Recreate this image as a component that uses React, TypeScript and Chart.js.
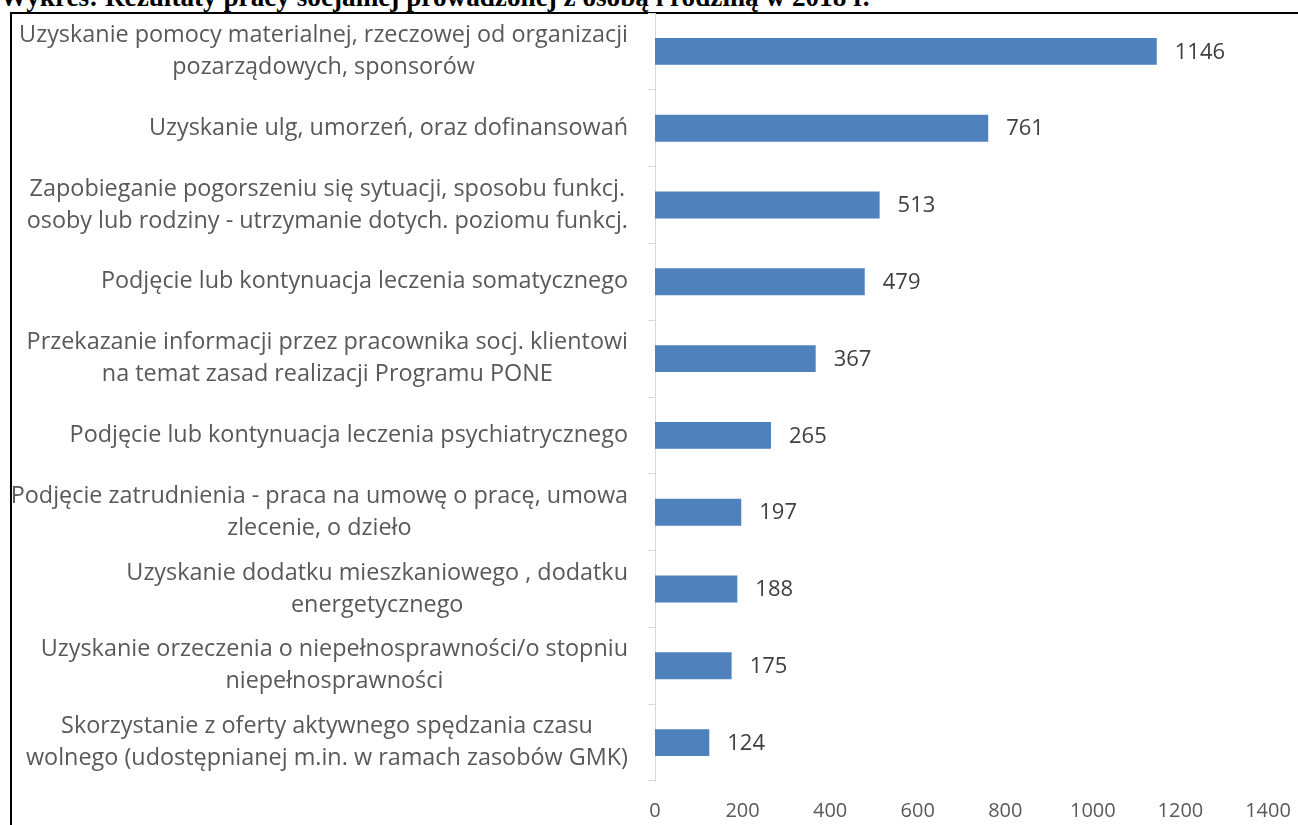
import React, { useEffect, useRef } from "react";
import { Chart, registerables } from "chart.js";

Chart.register(...registerables);

const TITLE = "Wykres: Rezultaty pracy socjalnej prowadzonej z osobą i rodziną w 2018 r.";

const categories: string[][] = [
  ["Uzyskanie pomocy materialnej, rzeczowej od organizacji", "pozarządowych, sponsorów"],
  ["Uzyskanie ulg, umorzeń, oraz dofinansowań"],
  ["Zapobieganie pogorszeniu się sytuacji, sposobu funkcj.", "osoby lub rodziny - utrzymanie dotych. poziomu funkcj."],
  ["Podjęcie lub kontynuacja leczenia somatycznego"],
  ["Przekazanie informacji przez pracownika socj. klientowi", "na temat zasad realizacji Programu PONE"],
  ["Podjęcie lub kontynuacja leczenia psychiatrycznego"],
  ["Podjęcie zatrudnienia - praca na umowę o pracę, umowa", "zlecenie, o dzieło"],
  ["Uzyskanie dodatku mieszkaniowego , dodatku", "energetycznego"],
  ["Uzyskanie orzeczenia o niepełnosprawności/o stopniu", "niepełnosprawności"],
  ["Skorzystanie z oferty aktywnego spędzania czasu", "wolnego (udostępnianej m.in. w ramach zasobów GMK)"],
];

const values: number[] = [1146, 761, 513, 479, 367, 265, 197, 188, 175, 124];

const xTicks: number[] = [0, 200, 400, 600, 800, 1000, 1200, 1400];

const FONT = '"Open Sans", sans-serif';

const categoryLabelsPlugin = {
  id: "categoryLabels",
  afterDraw(chart: any) {
    const ctx = chart.ctx;
    const yScale = chart.scales.y;
    ctx.save();
    ctx.font = `23.4px ${FONT}`;
    ctx.fillStyle = "#595959";
    ctx.textAlign = "center";
    ctx.textBaseline = "middle";
    const lineH = 32;
    categories.forEach((lines, i) => {
      const y = yScale.getPixelForTick(i);
      const maxW = Math.max(...lines.map((l) => ctx.measureText(l).width));
      const right = yScale.right - 27;
      const cx = right - maxW / 2;
      const startY = y - ((lines.length - 1) * lineH) / 2;
      lines.forEach((l, j) => ctx.fillText(l, cx, startY + j * lineH));
    });
    ctx.restore();
  },
};

const valueLabelsPlugin = {
  id: "valueLabels",
  afterDatasetsDraw(chart: any) {
    const ctx = chart.ctx;
    const meta = chart.getDatasetMeta(0);
    ctx.save();
    ctx.font = `22px ${FONT}`;
    ctx.fillStyle = "#404040";
    ctx.textAlign = "left";
    ctx.textBaseline = "middle";
    meta.data.forEach((bar: any, i: number) => {
      ctx.fillText(String(values[i]), bar.x + 18, bar.y + 1);
    });
    ctx.restore();
  },
};

export default function App() {
  const ref = useRef<HTMLCanvasElement | null>(null);

  useEffect(() => {
    if (!ref.current) return;
    const chart = new Chart(ref.current, {
      type: "bar",
      data: {
        labels: categories.map((c) => c.join(" ")),
        datasets: [
          {
            data: values,
            backgroundColor: "#4f81bd",
            barPercentage: 0.35,
            categoryPercentage: 1,
          },
        ],
      },
      options: {
        indexAxis: "y",
        animation: false,
        responsive: false,
        maintainAspectRatio: false,
        layout: { padding: { top: 13, right: 30, bottom: 0, left: 0 } },
        plugins: {
          legend: { display: false },
          tooltip: { enabled: false },
          title: { display: false },
        },
        scales: {
          x: {
            min: 0,
            max: 1400,
            afterFit: (scale: any) => {
              scale.height = 44;
              scale.paddingLeft = 0;
              scale.paddingRight = 0;
            },
            afterBuildTicks: (scale: any) => {
              scale.ticks = xTicks.map((v) => ({ value: v }));
            },
            grid: { display: false, drawTicks: false },
            border: { display: false },
            ticks: {
              color: "#595959",
              font: { family: FONT, size: 20 },
              padding: 18,
              callback: (v: any) => String(v),
            },
          },
          y: {
            afterFit: (scale: any) => {
              scale.width = 655;
              scale.paddingTop = 0;
              scale.paddingBottom = 0;
            },
            grid: {
              display: true,
              drawOnChartArea: false,
              drawTicks: true,
              tickLength: 7,
              color: "#d9d9d9",
              offset: true,
            },
            border: { display: true, color: "#d9d9d9", width: 1 },
            ticks: { display: false },
          },
        },
      },
      plugins: [categoryLabelsPlugin, valueLabelsPlugin],
    });
    return () => chart.destroy();
  }, []);

  return (
    <div
      style={{
        position: "fixed",
        left: 0,
        top: 0,
        width: 1298,
        height: 825,
        overflow: "hidden",
        background: "#fff",
      }}
    >
      <div
        style={{
          position: "absolute",
          left: 0,
          top: -16,
          fontFamily: '"Liberation Serif", "Times New Roman", serif',
          fontWeight: "bold",
          fontSize: 27.2,
          lineHeight: "27px",
          whiteSpace: "nowrap",
          color: "#000",
        }}
      >
        {TITLE}
      </div>
      <div
        style={{
          position: "absolute",
          left: 10,
          top: 12,
          width: 1400,
          height: 900,
          borderLeft: "2px solid #000",
          borderTop: "2px solid #000",
        }}
      />
      <canvas
        ref={ref}
        width={1298}
        height={825}
        style={{ position: "absolute", left: 0, top: 0, width: 1298, height: 825 }}
      />
    </div>
  );
}
